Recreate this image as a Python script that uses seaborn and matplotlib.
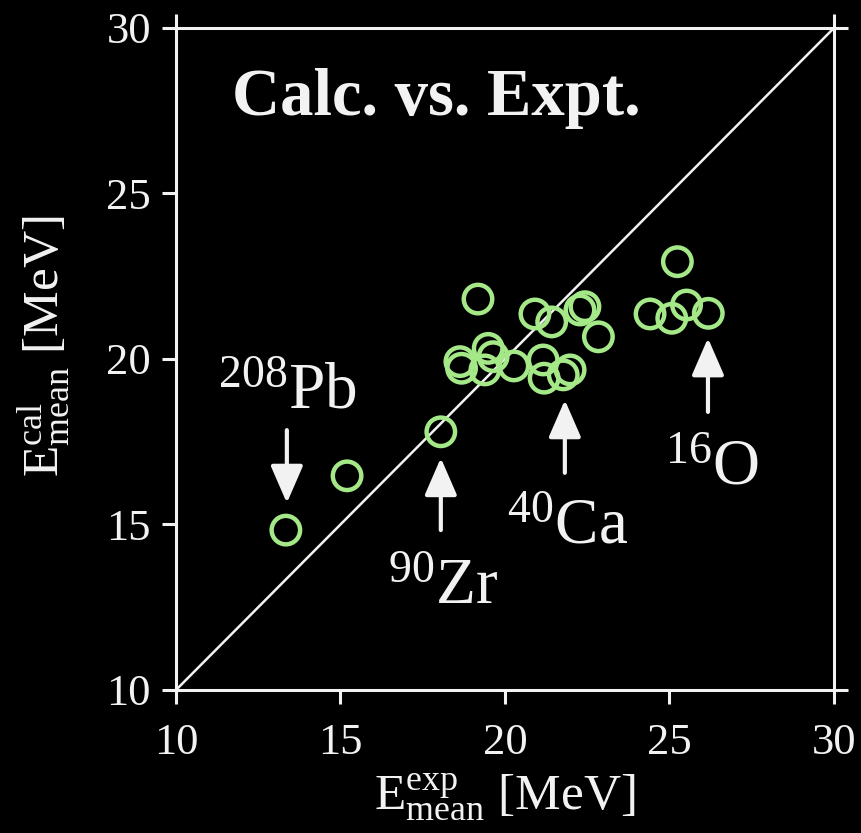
import numpy as np
import pandas as pd
import seaborn as sns
import matplotlib.pyplot as plt

# mean energies [MeV]
e_exp = [13.34, 15.20, 18.05, 19.18, 20.91, 21.42, 22.28, 22.43, 22.84,
         18.63, 18.68, 19.49, 19.64, 19.39, 20.27, 21.16, 21.19, 21.98, 21.77,
         25.24, 24.41, 25.07, 25.52, 26.18]
e_cal = [14.83, 16.47, 17.80, 21.81, 21.36, 21.12, 21.48, 21.58, 20.67,
         19.92, 19.72, 20.32, 20.07, 19.67, 19.79, 19.97, 19.42, 19.67, 19.52,
         22.94, 21.36, 21.23, 21.63, 21.38]

ticks = [10, 15, 20, 25, 30]

# nucleus labels: text, text position, arrow tail, arrow tip
nuclei = ['$^{208}$Pb', '$^{90}$Zr', '$^{40}$Ca', '$^{16}$O']
label_pos = [(11.28, 18.52), (16.44, 12.63), (20.06, 14.44), (24.86, 16.25)]
arrow_tail = [(13.37, 17.85), (18.05, 14.83), (21.82, 16.56), (26.17, 18.40)]
arrow_tip = [(13.37, 15.65), (18.05, 17.01), (21.82, 18.76), (26.17, 20.63)]

sns.set_style('ticks')
plt.rcParams['font.family'] = ['Liberation Serif', 'DejaVu Serif']
plt.rcParams['mathtext.fontset'] = 'custom'
plt.rcParams['mathtext.rm'] = 'Liberation Serif'
plt.rcParams['mathtext.it'] = 'Liberation Serif:italic'
plt.rcParams['mathtext.bf'] = 'Liberation Serif:bold'

fg = '#f2f2f2'
green = '#a4e888'

fig = plt.figure(figsize=(8.61, 8.33), dpi=100, facecolor='black')
ax = fig.add_axes([0.2044, 0.1717, 0.7642, 0.7947])
ax.set_facecolor('black')

df = pd.DataFrame({'exp': e_exp, 'cal': e_cal})

ax.plot([10, 30], [10, 30], color=fg, lw=1.8, zorder=1)
sns.scatterplot(data=df, x='exp', y='cal', ax=ax, s=420, marker='o',
                facecolors='none', edgecolor=green, linewidth=3.2, zorder=3)

ax.set_xlim(10, 30)
ax.set_ylim(10, 30)
ax.set_xticks(ticks)
ax.set_yticks(ticks)

for sp in ax.spines.values():
    sp.set_color(fg)
    sp.set_linewidth(2.2)
ax.tick_params(colors=fg, labelcolor=fg, labelsize=32, width=2.2, length=10,
               direction='out', pad=8)
ax.tick_params(axis='x', pad=14)

# corner ticks on top/right so the frame lines overshoot like the original
axt = ax.twiny()
axt.set_xlim(10, 30)
axt.set_xticks([10, 30])
axt.tick_params(colors=fg, width=2.2, length=10, direction='out', labeltop=False)
axr = ax.twinx()
axr.set_ylim(10, 30)
axr.set_yticks([10, 30])
axr.tick_params(colors=fg, width=2.2, length=10, direction='out', labelright=False)
for a in (axt, axr):
    for sp in a.spines.values():
        sp.set_visible(False)

ax.set_xlabel(r'$\mathrm{E}^{\mathrm{exp}}_{\mathrm{mean}}$ [MeV]', color=fg,
              fontsize=37)
ax.set_ylabel(r'$\mathrm{E}^{\mathrm{cal}}_{\mathrm{mean}}$ [MeV]', color=fg,
              fontsize=37)
ax.xaxis.set_label_coords(0.5, -0.124)
ax.yaxis.set_label_coords(-0.158, 0.52)

ax.text(11.7, 27.37, 'Calc. vs. Expt.', color=fg, fontsize=48,
        fontweight='bold', ha='left', va='baseline')

for name, pos, tail, tip in zip(nuclei, label_pos, arrow_tail, arrow_tip):
    ax.text(pos[0], pos[1], name, color=fg, fontsize=47, ha='left', va='baseline')
    ax.annotate('', xy=tip, xytext=tail,
                arrowprops=dict(arrowstyle='-|>,head_length=1.15,head_width=0.5',
                                color=fg, lw=3, mutation_scale=20,
                                shrinkA=0, shrinkB=0))

fig.savefig('out.png', dpi=100, facecolor='black')
